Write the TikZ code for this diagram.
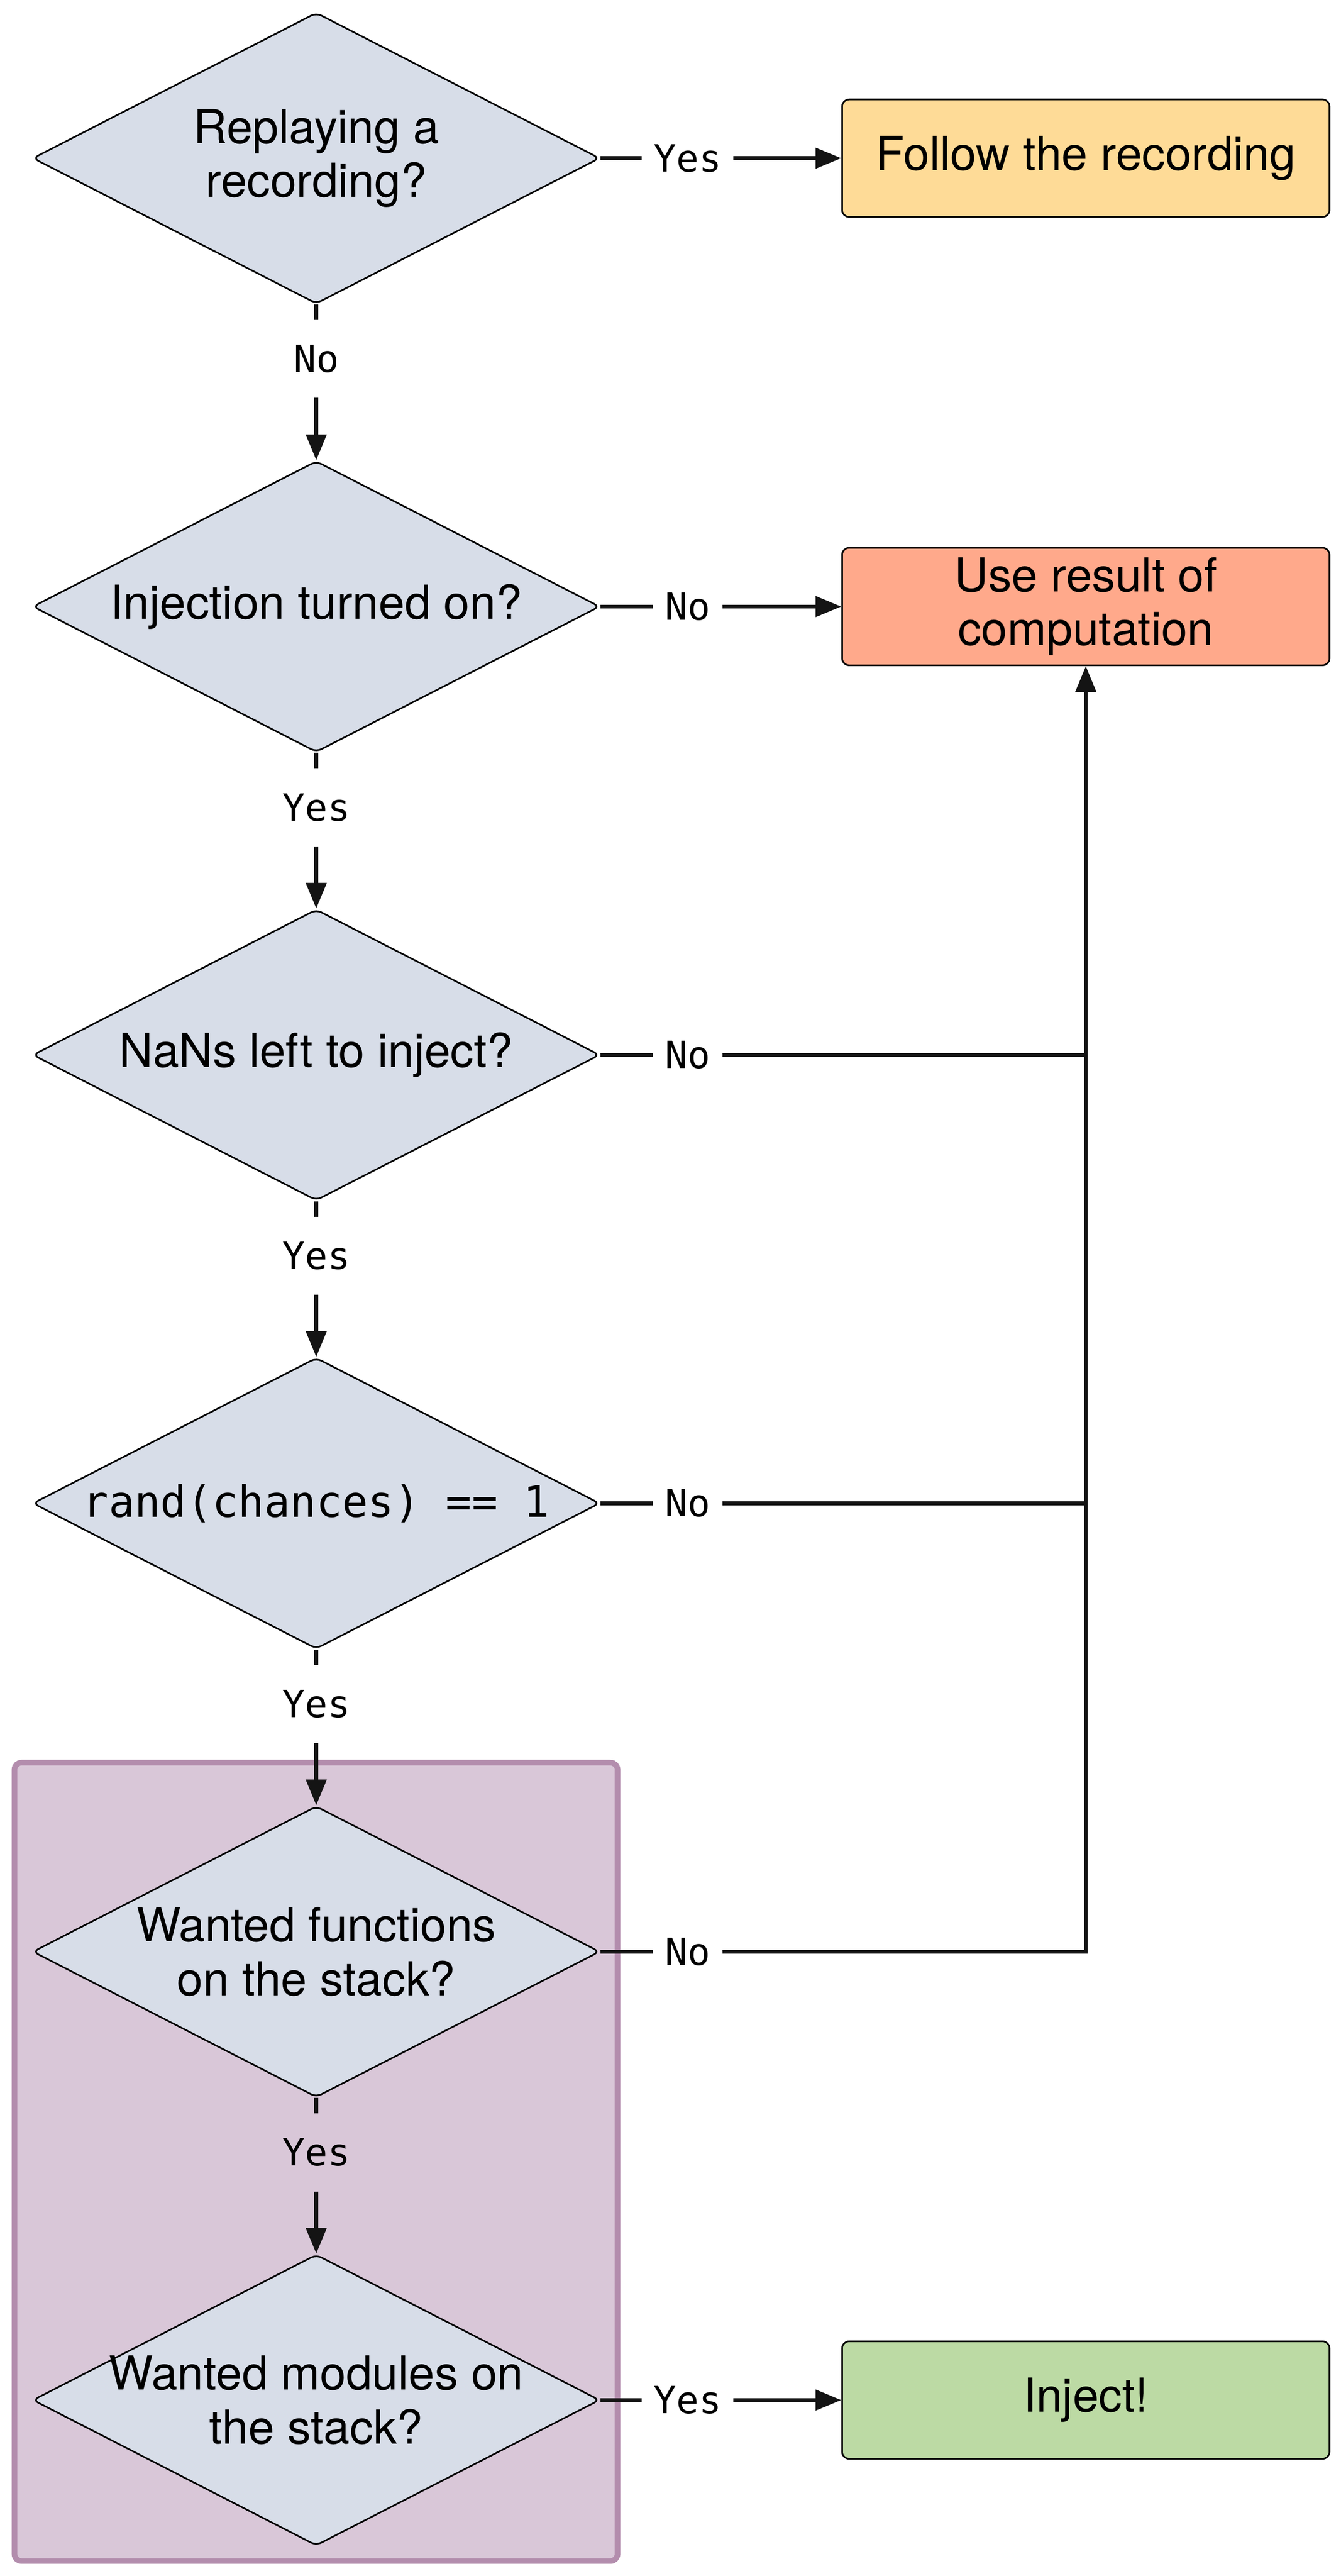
\documentclass[tikz,border=0pt]{standalone}
\usepackage{fontspec}
\setmainfont{TeX Gyre Heros}
\setmonofont{DejaVu Sans Mono}
\usepackage{tikz}
\usetikzlibrary{shapes.geometric, arrows.meta}

\definecolor{askfill}{HTML}{D7DDE8}
\definecolor{followfill}{HTML}{FEDB97}
\definecolor{resultfill}{HTML}{FFA98B}
\definecolor{injectfill}{HTML}{BCDAA4}
\definecolor{groupfill}{HTML}{D9C7D8}
\definecolor{groupline}{HTML}{B38DAD}
\definecolor{ink}{HTML}{141414}

\begin{document}
\begin{tikzpicture}
        [
          decision/.style={diamond, draw=black, line width=0.035cm, fill=askfill,
            minimum width=12.12cm, minimum height=6.22cm, aspect=1.95, inner sep=-1.5cm,
            rounded corners=0.12cm, align=center,
            font=\fontsize{28.5}{32.7}\selectfont},
          outcome/.style={rectangle, draw=black, line width=0.035cm,
            minimum width=10.42cm, minimum height=2.51cm,
            rounded corners=0.15cm, align=center,
            font=\fontsize{28.5}{32.7}\selectfont},
          answer/.style={inner xsep=0.25cm, inner ysep=0pt, minimum height=1.65cm,
            font=\ttfamily\fontsize{22.8}{26}\selectfont},
          flow/.style={draw=ink, line width=0.08cm},
          arrow/.style={flow, -{Triangle[length=0.55cm, width=0.43cm]}}
        ]
        \useasboundingbox (0,0) rectangle (28.66,-55.04);
        % group behind the last two questions
        \node [draw=groupline, fill=groupfill, line width=0.12cm, rounded corners=0.15cm,
          minimum width=12.89cm, minimum height=17.06cm] (grp) at (6.755,-46.19) {};
        % decisions
        \node [decision] (replay) at (6.76,-3.38) {Replaying a\\recording?};
        \node [decision] (turned) at (6.76,-12.96) {Injection turned on?};
        \node [decision] (nans) at (6.76,-22.54) {NaNs left to inject?};
        \node [decision] (rand) at (6.76,-32.12)
          {\ttfamily\fontsize{26.2}{30}\selectfont rand(chances) == 1};
        \node [decision] (funcs) at (6.76,-41.70) {Wanted functions\\on the stack?};
        \node [decision] (mods) at (6.76,-51.28) {Wanted modules on\\the stack?};
        % outcomes
        \node [outcome, fill=followfill] (follow) at (23.21,-3.38) {Follow the recording};
        \node [outcome, fill=resultfill] (result) at (23.21,-12.96) {Use result of\\computation};
        \node [outcome, fill=injectfill] (inject) at (23.21,-51.28) {Inject!};
        % answers on the way down
        \node [answer] (replayno) at (6.76,-7.67) {No};
        \node [answer] (turnedyes) at (6.76,-17.25) {Yes};
        \node [answer] (nansyes) at (6.76,-26.83) {Yes};
        \node [answer] (randyes) at (6.76,-36.41) {Yes};
        \node [answer] (funcsyes) at (6.76,-45.99) {Yes};
        % answers to the right
        \node [answer] (replayyes) at (14.70,-3.38) {Yes};
        \node [answer] (turnedno) at (14.70,-12.96) {No};
        \node [answer] (nansno) at (14.70,-22.54) {No};
        \node [answer] (randno) at (14.70,-32.12) {No};
        \node [answer] (funcsno) at (14.70,-41.70) {No};
        \node [answer] (modsyes) at (14.70,-51.28) {Yes};
        % down edges
        \draw [flow] (replay.south) -- (replayno);
        \draw [arrow] (replayno) -- (turned.north);
        \draw [flow] (turned.south) -- (turnedyes);
        \draw [arrow] (turnedyes) -- (nans.north);
        \draw [flow] (nans.south) -- (nansyes);
        \draw [arrow] (nansyes) -- (rand.north);
        \draw [flow] (rand.south) -- (randyes);
        \draw [arrow] (randyes) -- (funcs.north);
        \draw [flow] (funcs.south) -- (funcsyes);
        \draw [arrow] (funcsyes) -- (mods.north);
        % right edges
        \draw [flow] (replay.east) -- (replayyes);
        \draw [arrow] (replayyes) -- (follow.west);
        \draw [flow] (turned.east) -- (turnedno);
        \draw [arrow] (turnedno) -- (result.west);
        \draw [flow] (nans.east) -- (nansno);
        \draw [flow] (nansno) -- (nansno -| result.south);
        \draw [flow] (rand.east) -- (randno);
        \draw [flow] (randno) -- (randno -| result.south);
        \draw [flow] (funcs.east) -- (funcsno);
        \draw [arrow] (funcsno) -| (result.south);
        \draw [flow] (mods.east) -- (modsyes);
        \draw [arrow] (modsyes) -- (inject.west);
\end{tikzpicture}
\end{document}
